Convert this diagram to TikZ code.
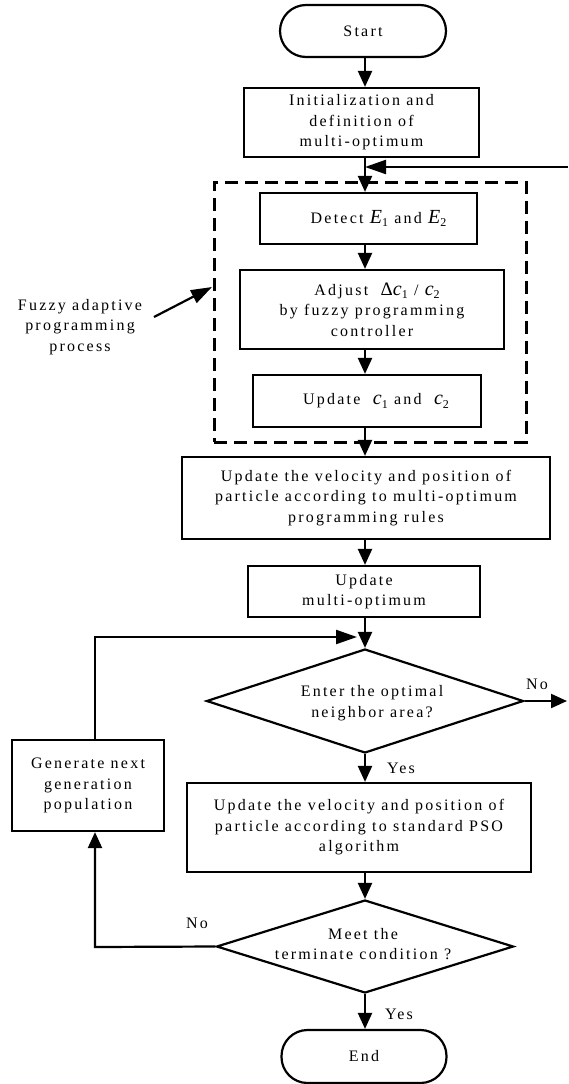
\documentclass[tikz,border=0pt]{standalone}
\usepackage{fontspec}
\setmainfont{Liberation Serif}[LetterSpace=14]
\newfontfamily\eqfont{Liberation Serif}
\usetikzlibrary{arrows.meta,shapes.geometric}
\newcommand{\boxfont}{\fontsize{16}{20.5}\selectfont}
\newcommand{\varsub}[2]{{\eqfont\itshape\fontsize{20}{20}\selectfont #1}\raisebox{-0.45ex}{\eqfont\fontsize{12}{12}\selectfont #2}}
\begin{document}
\begin{tikzpicture}[x=1pt,y=-1pt,
  box/.style={draw, line width=2.2pt, align=center, font=\boxfont, inner sep=2pt},
  term/.style={box, rounded corners=26pt},
  dia/.style={draw, diamond, line width=2.2pt, inner sep=0pt},
  lbl/.style={font=\boxfont, align=center, inner sep=1pt},
  conn/.style={line width=2.2pt, -{Triangle[length=16pt,width=14pt]}},
  fb/.style={line width=2.2pt, -{Triangle[length=21pt,width=14pt]}},
  group/.style={draw, line width=3pt, dash pattern=on 13pt off 7pt}]
\useasboundingbox (0,0) rectangle (568,1084);
\coordinate (col) at (365,0);
\coordinate (fbR) at (568,167);
\coordinate (noR) at (567,701);
\coordinate (lx) at (95,637);
\coordinate (lb) at (95,947);
\coordinate (fzA) at (154,317);
\coordinate (fzT) at (212,287);

\node[term, minimum width=166pt, minimum height=52pt] (start) at (363,31) {Start};
\node[box, minimum width=235pt, minimum height=69pt] (init) at (361.5,122.5) {Initialization and\\definition of\\multi-optimum};
\node[group, minimum width=312pt, minimum height=260pt] (fz) at (370,312) {};
\node[box, minimum width=217pt, minimum height=51pt] (detect) at (368.5,218.5) {\hspace*{20pt}Detect \varsub{E}{1} and \varsub{E}{2}};
\node[box, minimum width=264pt, minimum height=79pt] (adjust) at (372,309.5) {\hspace*{10pt}Adjust \ {\eqfont\fontsize{19}{20}\selectfont Δ}\varsub{c}{1} / \varsub{c}{2}\\by fuzzy programming\\controller};
\node[box, minimum width=228pt, minimum height=52pt] (updc) at (367,401) {\hspace*{18pt}Update \ \varsub{c}{1} and \ \varsub{c}{2}};
\node[box, minimum width=368pt, minimum height=82pt] (vel1) at (366,498) {Update the velocity and position of\\particle according to multi-optimum\\programming rules};
\node[box, minimum width=232pt, minimum height=51pt] (upm) at (364,591.5) {Update\\multi-optimum};
\node[dia, minimum width=317pt, minimum height=104pt] (d1) at (365,701) {};
\node[lbl] (d1t) at (372,703) {Enter the optimal\\neighbor area?};
\node[box, minimum width=344pt, minimum height=89pt] (pso) at (359,827.5) {Update the velocity and position of\\particle according to standard PSO\\algorithm};
\node[dia, minimum width=297pt, minimum height=93pt] (d2) at (365,946.5) {};
\node[lbl] (d2t) at (363,944) {Meet the\\terminate condition ?};
\node[term, minimum width=165pt, minimum height=53pt] (end) at (364,1056.5) {End};
\node[box, minimum width=152pt, minimum height=91pt] (gen) at (88,785.5) {Generate next\\generation\\population};
\node[lbl] (fuzzy) at (80,327) {Fuzzy adaptive\\programming\\process};

\node[lbl] (no1) at (537,684) {No};
\node[lbl] (yes1) at (401,768) {Yes};
\node[lbl] (no2) at (197,923) {No};
\node[lbl] (yes2) at (399,1014) {Yes};

\draw[conn] (start.south -| col) -- (init.north -| col);
\draw[conn] (init.south -| col) -- (detect.north -| col);
\draw[fb] (fbR) -- (fbR -| col);
\draw[conn] (detect.south -| col) -- (adjust.north -| col);
\draw[conn] (adjust.south -| col) -- (updc.north -| col);
\draw[conn] (updc.south -| col) -- (vel1.north -| col);
\draw[conn] (vel1.south -| col) -- (upm.north -| col);
\draw[conn] (upm.south -| col) -- (d1.north);
\draw[fb, shorten >=8pt] (gen.north -| lx) -- (lx) -- (lx -| col);
\draw[conn] (d1.east) -- (noR);
\draw[conn] (d1.south) -- (pso.north -| col);
\draw[conn] (pso.south -| col) -- (d2.north);
\draw[conn] (d2.west) -- (lb) -- (gen.south -| lb);
\draw[conn] (d2.south) -- (end.north -| col);
\draw[fb] (fzA) -- (fzT);
\end{tikzpicture}
\end{document}
